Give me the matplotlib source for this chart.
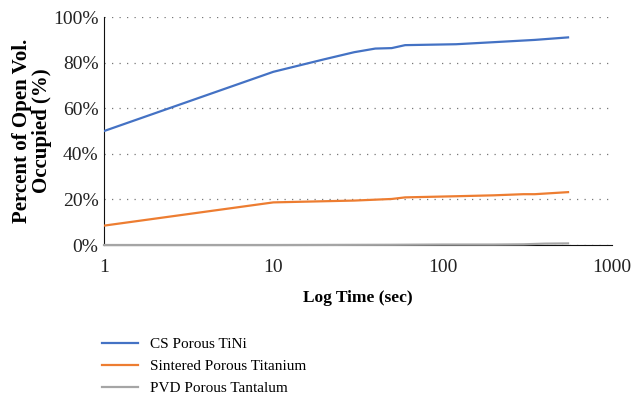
import numpy as np
import matplotlib.pyplot as plt
from matplotlib.ticker import FuncFormatter, FixedLocator

plt.rcParams['font.family'] = ['Liberation Serif', 'DejaVu Serif']

# Values
tini_time = [1, 10, 20, 30, 40, 50, 60, 120, 200, 350, 550]
tini_pct = [50, 76, 81.5, 84.6, 86.2, 86.4, 87.7, 88.1, 89, 90, 91.1]

ti_time = [1, 10, 15, 30, 50, 60, 120, 200, 300, 350, 550]
ti_pct = [8.5, 18.7, 19.0, 19.5, 20.2, 20.9, 21.4, 21.8, 22.3, 22.3, 23.2]

ta_time = [1, 10, 50, 100, 200, 300, 400, 550]
ta_pct = [0, 0, 0.1, 0.2, 0.2, 0.3, 0.6, 0.7]

fig = plt.figure(figsize=(6.35, 3.98), dpi=100)
ax = fig.add_axes([0.1638, 0.3844, 0.8, 0.5726])

ax.plot(tini_time, tini_pct, color='#4472C4', lw=1.6, label='CS Porous TiNi', zorder=3)
ax.plot(ti_time, ti_pct, color='#ED7D31', lw=1.6, label='Sintered Porous Titanium', zorder=3)
ax.plot(ta_time, ta_pct, color='#A5A5A5', lw=1.6, label='PVD Porous Tantalum', zorder=4,
        clip_on=False)

ax.set_xscale('log')
ax.set_xlim(1, 1000)
ax.set_ylim(0, 100)
ax.xaxis.set_major_locator(FixedLocator([1, 10, 100, 1000]))
ax.xaxis.set_minor_locator(FixedLocator([]))
ax.xaxis.set_major_formatter(FuncFormatter(lambda v, p: f"{v:g}"))
ax.yaxis.set_major_locator(FixedLocator([0, 20, 40, 60, 80, 100]))
ax.yaxis.set_major_formatter(FuncFormatter(lambda v, p: f"{v:.0f}%"))
ax.tick_params(length=0, labelsize=14, colors='#222222', pad=4)
ax.tick_params(axis='x', pad=10)

ax.grid(axis='y', linestyle=(0, (1, 5)), color='#777777', lw=0.9)
ax.spines['top'].set_visible(False)
ax.spines['right'].set_visible(False)
ax.spines['left'].set_color('#111111')
ax.spines['bottom'].set_color('#111111')

ax.set_xlabel('Log Time (sec)', fontweight='bold', fontsize=12.5, labelpad=10)
ax.set_ylabel('Percent of Open Vol.\nOccupied (%)', fontweight='bold', fontsize=15,
              labelpad=1, linespacing=0.95)

fig.legend(loc='upper left', bbox_to_anchor=(0.16, 0.152), frameon=False,
           fontsize=11, handlelength=2.4, labelspacing=0.55, handletextpad=0.8,
           borderaxespad=0, borderpad=0)

fig.savefig('out.png', dpi=100)
